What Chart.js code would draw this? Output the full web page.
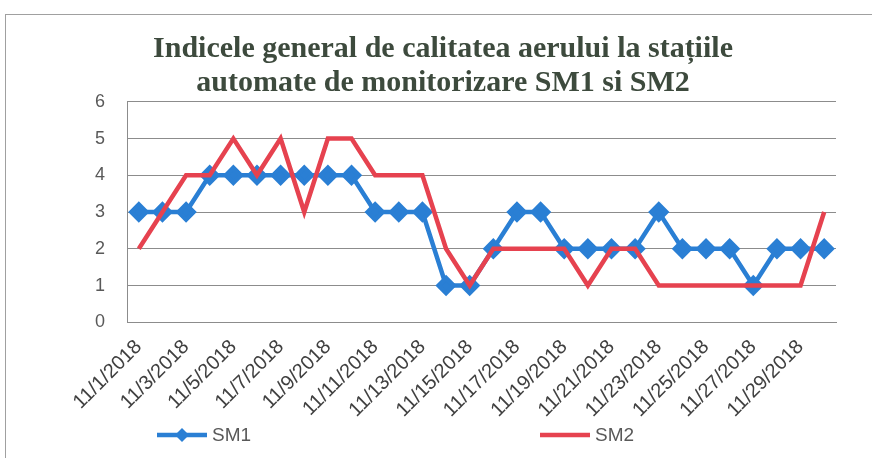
<!DOCTYPE html>
<html>
<head>
<meta charset="utf-8">
<script src="https://cdn.jsdelivr.net/npm/chart.js@4"></script>
<style>
  html, body { margin: 0; padding: 0; background: #fff; }
  #wrap { width: 872px; height: 458px; }
</style>
</head>
<body>
<div id="wrap"><canvas id="aqiChart" width="872" height="458"></canvas></div>
<script>
// dates 11/1/2018 .. 11/30/2018
const days = [];
for (let d = 1; d <= 30; d++) days.push(`11/${d}/2018`);

const sm1 = [3,3,3,4,4,4,4,4,4,4,3,3,3,1,1,2,3,3,2,2,2,2,3,2,2,2,1,2,2,2];
const sm2 = [2,3,4,4,5,4,5,3,5,5,4,4,4,2,1,2,2,2,2,1,2,2,1,1,1,1,1,1,1,3];
const yTicks = [0,1,2,3,4,5,6];

const blue = "#2a7fd4";
const red = "#e6424f";
const gridColor = "#8c8c8c";
const textColor = "#595959";

// outer frame of the scanned chart
const framePlugin = {
    id: "frame",
    beforeDraw(chart) {
        const ctx = chart.ctx;
        ctx.save();
        ctx.fillStyle = "#fff";
        ctx.fillRect(0, 0, chart.width, chart.height);
        ctx.strokeStyle = "#a0a0a0";
        ctx.lineWidth = 1;
        ctx.strokeRect(5.5, 14.5, chart.width, chart.height);
        ctx.restore();
    }
};

// legend spread like the Excel one
const legendPlugin = {
    id: "wideLegend",
    afterDraw(chart) {
        const ctx = chart.ctx;
        const y = 435;
        const spots = [157, 540];
        ctx.save();
        chart.data.datasets.forEach((ds, i) => {
            const x = spots[i];
            ctx.strokeStyle = ds.borderColor;
            ctx.lineWidth = 4.5;
            ctx.beginPath();
            ctx.moveTo(x, y);
            ctx.lineTo(x + 50, y);
            ctx.stroke();
            if (ds.pointRadius > 0) {
                ctx.fillStyle = ds.pointBackgroundColor;
                ctx.beginPath();
                ctx.moveTo(x + 25, y - 7);
                ctx.lineTo(x + 32, y);
                ctx.lineTo(x + 25, y + 7);
                ctx.lineTo(x + 18, y);
                ctx.closePath();
                ctx.fill();
            }
            ctx.fillStyle = textColor;
            ctx.font = "19px 'Liberation Sans'";
            ctx.textBaseline = "middle";
            ctx.fillText(ds.label, x + 55, y + 1);
        });
        ctx.restore();
    }
};

new Chart(document.getElementById("aqiChart"), {
    type: "line",
    data: {
        labels: days,
        datasets: [
            {
                label: "SM1",
                data: sm1,
                order: 1,
                borderColor: blue,
                backgroundColor: blue,
                pointBackgroundColor: blue,
                pointBorderColor: blue,
                pointStyle: "rectRot",
                pointRadius: 7.5,
                borderWidth: 4.5,
                tension: 0
            },
            {
                label: "SM2",
                data: sm2,
                order: 0,
                borderColor: red,
                backgroundColor: red,
                pointRadius: 0,
                borderWidth: 4.5,
                tension: 0
            }
        ]
    },
    options: {
        responsive: false,
        animation: false,
        layout: { padding: { top: 28, right: 36, bottom: 23, left: 50 } },
        plugins: {
            legend: { display: false },
            tooltip: { enabled: false },
            title: {
                display: true,
                text: ["Indicele general de calitatea aerului la stațiile",
                       "automate de monitorizare SM1 si SM2"],
                color: "#3d4a3d",
                font: { family: "'Liberation Serif'", size: 30, weight: "bold", lineHeight: 1.13 },
                padding: { top: 4, bottom: 2 }
            }
        },
        scales: {
            x: {
                offset: true,
                grid: { display: false, drawTicks: false },
                border: { color: gridColor, width: 1 },
                ticks: {
                    autoSkip: false,
                    maxRotation: 45,
                    minRotation: 45,
                    color: "#404040",
                    font: { family: "'Liberation Sans'", size: 20 },
                    padding: 13,
                    callback: (v, i) => (i % 2 === 0 ? days[i] : "")
                }
            },
            y: {
                min: 0,
                max: 6,
                afterBuildTicks: axis => { axis.ticks = yTicks.map(v => ({ value: v })); },
                afterFit: axis => { axis.width = 77; },
                grid: { color: gridColor, lineWidth: 1, drawTicks: false },
                border: { color: gridColor, width: 1 },
                ticks: {
                    color: textColor,
                    font: { family: "'Liberation Sans'", size: 18 },
                    padding: 22
                }
            }
        }
    },
    plugins: [framePlugin, legendPlugin]
});
</script>
</body>
</html>
